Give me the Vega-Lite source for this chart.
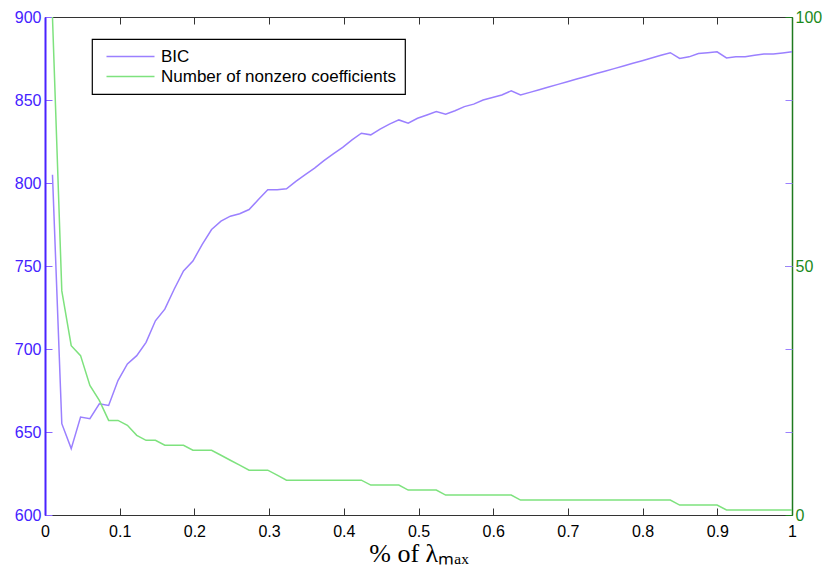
{
  "$schema": "https://vega.github.io/schema/vega-lite/v6.json",
  "width": 747,
  "height": 498,
  "autosize": "none",
  "padding": {"left": 45, "top": 17, "right": 33, "bottom": 57},
  "background": "white",
  "config": {"view": {"stroke": null}, "axis": {"grid": false}, "legend": {"strokeWidth": 1.2}},
  "data": {"values": [
    {"x": 0.0100, "bic": 805, "nnz": 100},
    {"x": 0.0225, "bic": 655, "nnz": 45},
    {"x": 0.0351, "bic": 640, "nnz": 34},
    {"x": 0.0476, "bic": 659, "nnz": 32},
    {"x": 0.0601, "bic": 658, "nnz": 26},
    {"x": 0.0727, "bic": 667, "nnz": 23},
    {"x": 0.0852, "bic": 666, "nnz": 19},
    {"x": 0.0977, "bic": 681, "nnz": 19},
    {"x": 0.1103, "bic": 691, "nnz": 18},
    {"x": 0.1228, "bic": 696, "nnz": 16},
    {"x": 0.1353, "bic": 704, "nnz": 15},
    {"x": 0.1478, "bic": 717, "nnz": 15},
    {"x": 0.1604, "bic": 724, "nnz": 14},
    {"x": 0.1729, "bic": 736, "nnz": 14},
    {"x": 0.1854, "bic": 747, "nnz": 14},
    {"x": 0.1980, "bic": 753, "nnz": 13},
    {"x": 0.2105, "bic": 763, "nnz": 13},
    {"x": 0.2230, "bic": 772, "nnz": 13},
    {"x": 0.2356, "bic": 777, "nnz": 12},
    {"x": 0.2481, "bic": 780, "nnz": 11},
    {"x": 0.2606, "bic": 781.5, "nnz": 10},
    {"x": 0.2732, "bic": 784, "nnz": 9},
    {"x": 0.2857, "bic": 790, "nnz": 9},
    {"x": 0.2982, "bic": 796, "nnz": 9},
    {"x": 0.3108, "bic": 796, "nnz": 8},
    {"x": 0.3233, "bic": 796.5, "nnz": 7},
    {"x": 0.3358, "bic": 801, "nnz": 7},
    {"x": 0.3484, "bic": 805, "nnz": 7},
    {"x": 0.3609, "bic": 809, "nnz": 7},
    {"x": 0.3734, "bic": 813.5, "nnz": 7},
    {"x": 0.3859, "bic": 817.5, "nnz": 7},
    {"x": 0.3985, "bic": 821.5, "nnz": 7},
    {"x": 0.4110, "bic": 826, "nnz": 7},
    {"x": 0.4235, "bic": 830, "nnz": 7},
    {"x": 0.4361, "bic": 829, "nnz": 6},
    {"x": 0.4486, "bic": 832.5, "nnz": 6},
    {"x": 0.4611, "bic": 835.5, "nnz": 6},
    {"x": 0.4737, "bic": 838, "nnz": 6},
    {"x": 0.4862, "bic": 836, "nnz": 5},
    {"x": 0.4987, "bic": 839, "nnz": 5},
    {"x": 0.5113, "bic": 841, "nnz": 5},
    {"x": 0.5238, "bic": 843, "nnz": 5},
    {"x": 0.5363, "bic": 841.5, "nnz": 4},
    {"x": 0.5489, "bic": 843.5, "nnz": 4},
    {"x": 0.5614, "bic": 846, "nnz": 4},
    {"x": 0.5739, "bic": 847.5, "nnz": 4},
    {"x": 0.5865, "bic": 850, "nnz": 4},
    {"x": 0.5990, "bic": 851.5, "nnz": 4},
    {"x": 0.6115, "bic": 853, "nnz": 4},
    {"x": 0.6241, "bic": 855.5, "nnz": 4},
    {"x": 0.6366, "bic": 853, "nnz": 3},
    {"x": 0.6491, "bic": 854.6, "nnz": 3},
    {"x": 0.6616, "bic": 856.2, "nnz": 3},
    {"x": 0.6742, "bic": 857.8, "nnz": 3},
    {"x": 0.6867, "bic": 859.4, "nnz": 3},
    {"x": 0.6992, "bic": 861.0, "nnz": 3},
    {"x": 0.7118, "bic": 862.6, "nnz": 3},
    {"x": 0.7243, "bic": 864.2, "nnz": 3},
    {"x": 0.7368, "bic": 865.8, "nnz": 3},
    {"x": 0.7494, "bic": 867.3, "nnz": 3},
    {"x": 0.7619, "bic": 868.9, "nnz": 3},
    {"x": 0.7744, "bic": 870.5, "nnz": 3},
    {"x": 0.7870, "bic": 872.1, "nnz": 3},
    {"x": 0.7995, "bic": 873.7, "nnz": 3},
    {"x": 0.8120, "bic": 875.3, "nnz": 3},
    {"x": 0.8246, "bic": 876.9, "nnz": 3},
    {"x": 0.8371, "bic": 878.5, "nnz": 3},
    {"x": 0.8496, "bic": 875, "nnz": 2},
    {"x": 0.8622, "bic": 876, "nnz": 2},
    {"x": 0.8747, "bic": 878, "nnz": 2},
    {"x": 0.8872, "bic": 878.5, "nnz": 2},
    {"x": 0.8997, "bic": 879, "nnz": 2},
    {"x": 0.9123, "bic": 875.3, "nnz": 1},
    {"x": 0.9248, "bic": 876, "nnz": 1},
    {"x": 0.9373, "bic": 876, "nnz": 1},
    {"x": 0.9499, "bic": 877, "nnz": 1},
    {"x": 0.9624, "bic": 877.7, "nnz": 1},
    {"x": 0.9749, "bic": 877.7, "nnz": 1},
    {"x": 0.9875, "bic": 878.3, "nnz": 1},
    {"x": 1.0000, "bic": 879, "nnz": 1}
  ]},
  "layer": [
    {
      "mark": {"type": "line", "strokeWidth": 1.5},
      "encoding": {
        "x": {"field": "x", "type": "quantitative", "scale": {"domain": [0, 1], "nice": false},
          "axis": {"orient": "bottom", "values": [0, 0.1, 0.2, 0.3, 0.4, 0.5, 0.6, 0.7, 0.8, 0.9, 1], "format": ".1~f",
            "labelFlush": false, "labelOverlap": false, "labelFont": "Liberation Sans", "labelFontSize": 16, "labelColor": "black",
            "tickColor": "#333333", "tickSize": -7, "labelPadding": 15, "domainColor": "#333333", "domainWidth": 1.2,
            "title": "% of λₘₐₓ", "titleFont": "Liberation Serif", "titleFontSize": 26, "titleFontWeight": "normal", "titleColor": "black", "titlePadding": 1}},
        "y": {"field": "bic", "type": "quantitative", "scale": {"domain": [600, 900], "nice": false, "zero": false},
          "axis": {"orient": "left", "values": [600, 650, 700, 750, 800, 850, 900], "title": null, "labelFlush": false, "labelOverlap": false,
            "labelFont": "Liberation Sans", "labelFontSize": 16, "labelColor": "#4422ff",
            "tickColor": "#8866ff", "tickSize": -7, "labelPadding": 11, "domainColor": "#4a22ff", "domainWidth": 2}},
        "color": {"datum": "BIC", "type": "nominal",
          "scale": {"domain": ["BIC", "Number of nonzero coefficients"], "range": ["#9b80ff", "#7ee27e"]},
          "legend": {"orient": "none", "legendX": 47, "legendY": 22, "title": null, "strokeColor": "black",
            "fillColor": "white", "padding": 9, "symbolType": "M-0.6,0H9.0", "symbolSize": 100, "symbolStrokeWidth": 1.5,
            "labelFont": "Liberation Sans", "labelFontSize": 17, "labelColor": "black", "labelOffset": 43, "labelLimit": 0, "rowPadding": 2}}
      }
    },
    {
      "mark": {"type": "line", "strokeWidth": 1.5},
      "encoding": {
        "x": {"field": "x", "type": "quantitative", "axis": null},
        "y": {"field": "nnz", "type": "quantitative", "scale": {"domain": [0, 100], "nice": false},
          "axis": {"orient": "right", "values": [0, 50, 100], "title": null, "labelFlush": false, "labelOverlap": false,
            "labelFont": "Liberation Sans", "labelFontSize": 16, "labelColor": "#1b8a1b",
            "tickColor": "#1e7a1e", "tickSize": -7, "labelPadding": 10, "domainColor": "#1e7a1e", "domainWidth": 1.5}},
        "color": {"datum": "Number of nonzero coefficients", "type": "nominal"}
      }
    },
    {
      "mark": {"type": "line", "opacity": 0},
      "encoding": {
        "x": {"field": "x", "type": "quantitative",
          "axis": {"orient": "top", "values": [0, 0.1, 0.2, 0.3, 0.4, 0.5, 0.6, 0.7, 0.8, 0.9, 1], "labels": false, "title": null,
            "tickColor": "#333333", "tickSize": -7, "domainColor": "#333333", "domainWidth": 1.2}},
        "y": {"field": "bic", "type": "quantitative", "scale": {"domain": [600, 900], "nice": false, "zero": false},
          "axis": {"orient": "right", "values": [650, 700, 750, 800, 850], "labels": false, "title": null, "domain": false,
            "tickColor": "#9b80ff", "tickSize": -7}}
      }
    }
  ],
  "resolve": {"scale": {"y": "independent"}, "axis": {"x": "independent", "y": "independent"}}
}
